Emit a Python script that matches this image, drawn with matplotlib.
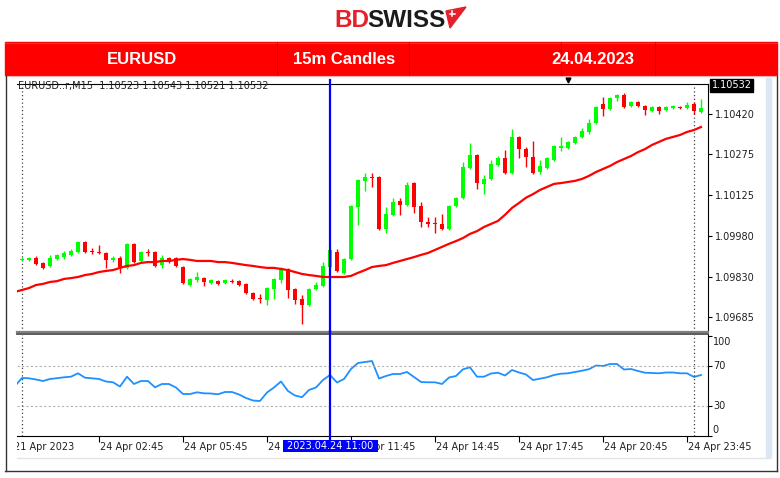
import matplotlib.pyplot as plt
from matplotlib.patches import Rectangle, Polygon
from matplotlib.transforms import Bbox, TransformedBbox, blended_transform_factory

W, H = 780, 478
plt.rcParams['font.family'] = ['DejaVu Sans']

# 15m candles, 24 Apr 00:00 .. 25 Apr 00:15
opens = [1.09892, 1.09892, 1.09899, 1.09881, 1.09870, 1.09895, 1.09902, 1.09910, 1.09921, 1.09957,
         1.09924, 1.09921, 1.09917, 1.09892, 1.09899, 1.09863, 1.09950, 1.09888, 1.09921, 1.09921,
         1.09873, 1.09899, 1.09899, 1.09866, 1.09801, 1.09819, 1.09826, 1.09808, 1.09815, 1.09808,
         1.09815, 1.09815, 1.09805, 1.09772, 1.09754, 1.09747, 1.09787, 1.09819, 1.09859, 1.09787,
         1.09750, 1.09729, 1.09787, 1.09797, 1.09866, 1.09921, 1.09845, 1.09895, 1.10084, 1.10178,
         1.10192, 1.10192, 1.10004, 1.10055, 1.10106, 1.10091, 1.10170, 1.10088, 1.10029, 1.10026,
         1.10022, 1.10004, 1.10088, 1.10117, 1.10225, 1.10272, 1.10167, 1.10185, 1.10235, 1.10261,
         1.10206, 1.10337, 1.10293, 1.10264, 1.10210, 1.10225, 1.10253, 1.10297, 1.10297, 1.10315,
         1.10337, 1.10355, 1.10387, 1.10456, 1.10438, 1.10478, 1.10489, 1.10449, 1.10463, 1.10449,
         1.10431, 1.10445, 1.10434, 1.10442, 1.10445, 1.10442, 1.10456, 1.10427]
highs = [1.09902, 1.09902, 1.09906, 1.09884, 1.09910, 1.09913, 1.09924, 1.09932, 1.09960, 1.09960,
         1.09935, 1.09946, 1.09921, 1.09906, 1.09906, 1.09953, 1.09953, 1.09924, 1.09932, 1.09924,
         1.09910, 1.09902, 1.09902, 1.09870, 1.09826, 1.09848, 1.09830, 1.09823, 1.09819, 1.09823,
         1.09823, 1.09819, 1.09808, 1.09776, 1.09768, 1.09794, 1.09826, 1.09866, 1.09863, 1.09790,
         1.09765, 1.09790, 1.09812, 1.09884, 1.09932, 1.09932, 1.09899, 1.10091, 1.10185, 1.10206,
         1.10206, 1.10196, 1.10084, 1.10117, 1.10117, 1.10174, 1.10174, 1.10102, 1.10047, 1.10047,
         1.10058, 1.10091, 1.10120, 1.10246, 1.10315, 1.10275, 1.10199, 1.10253, 1.10268, 1.10290,
         1.10366, 1.10340, 1.10301, 1.10322, 1.10253, 1.10264, 1.10308, 1.10337, 1.10322, 1.10340,
         1.10369, 1.10402, 1.10449, 1.10482, 1.10482, 1.10492, 1.10496, 1.10467, 1.10467, 1.10453,
         1.10449, 1.10449, 1.10449, 1.10453, 1.10449, 1.10463, 1.10463, 1.10474]
lows = [1.09888, 1.09888, 1.09873, 1.09859, 1.09866, 1.09892, 1.09895, 1.09906, 1.09917, 1.09917,
        1.09913, 1.09913, 1.09863, 1.09884, 1.09845, 1.09859, 1.09881, 1.09884, 1.09906, 1.09866,
        1.09863, 1.09881, 1.09866, 1.09805, 1.09797, 1.09812, 1.09797, 1.09805, 1.09801, 1.09805,
        1.09808, 1.09797, 1.09768, 1.09747, 1.09736, 1.09729, 1.09750, 1.09808, 1.09754, 1.09732,
        1.09660, 1.09725, 1.09783, 1.09794, 1.09863, 1.09848, 1.09841, 1.09892, 1.10019, 1.10141,
        1.10156, 1.10000, 1.09989, 1.10051, 1.10055, 1.10088, 1.10062, 1.10011, 1.10011, 1.09989,
        1.10000, 1.10000, 1.10084, 1.10113, 1.10221, 1.10149, 1.10130, 1.10181, 1.10232, 1.10203,
        1.10203, 1.10261, 1.10228, 1.10203, 1.10203, 1.10221, 1.10250, 1.10286, 1.10293, 1.10312,
        1.10333, 1.10348, 1.10384, 1.10413, 1.10434, 1.10467, 1.10442, 1.10445, 1.10445, 1.10416,
        1.10427, 1.10420, 1.10431, 1.10438, 1.10438, 1.10438, 1.10420, 1.10424]
closes = [1.09895, 1.09899, 1.09877, 1.09863, 1.09899, 1.09910, 1.09917, 1.09924, 1.09957, 1.09921,
          1.09921, 1.09917, 1.09892, 1.09899, 1.09866, 1.09950, 1.09884, 1.09921, 1.09917, 1.09870,
          1.09899, 1.09884, 1.09870, 1.09808, 1.09823, 1.09830, 1.09812, 1.09819, 1.09805, 1.09819,
          1.09812, 1.09801, 1.09772, 1.09750, 1.09750, 1.09790, 1.09823, 1.09863, 1.09783, 1.09747,
          1.09729, 1.09787, 1.09801, 1.09870, 1.09928, 1.09852, 1.09895, 1.10088, 1.10181, 1.10192,
          1.10188, 1.10004, 1.10058, 1.10102, 1.10091, 1.10163, 1.10084, 1.10029, 1.10022, 1.10022,
          1.10004, 1.10088, 1.10117, 1.10228, 1.10272, 1.10170, 1.10185, 1.10239, 1.10261, 1.10206,
          1.10337, 1.10293, 1.10264, 1.10206, 1.10232, 1.10261, 1.10304, 1.10304, 1.10319, 1.10337,
          1.10358, 1.10387, 1.10445, 1.10438, 1.10478, 1.10489, 1.10445, 1.10463, 1.10449, 1.10434,
          1.10445, 1.10431, 1.10445, 1.10449, 1.10442, 1.10453, 1.10431, 1.10442]

# moving average and RSI start one bar earlier (21 Apr 23:45)
ma_line = [1.09776, 1.09783, 1.09790, 1.09801, 1.09805, 1.09812, 1.09815, 1.09823, 1.09826, 1.09830,
           1.09837, 1.09841, 1.09848, 1.09852, 1.09855, 1.09863, 1.09870, 1.09873, 1.09881, 1.09884,
           1.09884, 1.09888, 1.09888, 1.09892, 1.09895, 1.09892, 1.09888, 1.09888, 1.09888, 1.09884,
           1.09884, 1.09881, 1.09877, 1.09873, 1.09870, 1.09866, 1.09863, 1.09863, 1.09859, 1.09855,
           1.09848, 1.09841, 1.09837, 1.09834, 1.09830, 1.09830, 1.09830, 1.09830, 1.09834, 1.09845,
           1.09855, 1.09866, 1.09870, 1.09873, 1.09881, 1.09888, 1.09895, 1.09902, 1.09910, 1.09917,
           1.09928, 1.09939, 1.09950, 1.09960, 1.09971, 1.09986, 1.09996, 1.10011, 1.10022, 1.10033,
           1.10055, 1.10080, 1.10098, 1.10117, 1.10130, 1.10145, 1.10156, 1.10167, 1.10170, 1.10174,
           1.10178, 1.10185, 1.10196, 1.10210, 1.10221, 1.10232, 1.10246, 1.10257, 1.10268, 1.10282,
           1.10293, 1.10308, 1.10319, 1.10330, 1.10337, 1.10344, 1.10355, 1.10362, 1.10373]
rsi_line = [50.0, 58.0, 57.7, 56.5, 55.0, 57.0, 57.8, 58.7, 59.3, 62.7,
            58.3, 57.7, 57.0, 54.5, 53.7, 49.5, 59.3, 52.0, 55.0, 55.0,
            48.7, 52.0, 52.0, 48.5, 42.0, 42.0, 43.7, 42.7, 42.5, 41.7,
            44.0, 44.0, 41.5, 38.0, 35.5, 35.0, 43.5, 48.5, 54.5, 45.0,
            40.5, 38.8, 46.0, 48.5, 56.0, 61.0, 53.5, 57.0, 67.0, 73.0,
            74.0, 75.0, 57.5, 60.0, 62.0, 62.0, 64.0, 59.0, 54.0, 53.7,
            53.7, 52.0, 58.5, 60.0, 66.7, 68.7, 59.3, 59.3, 62.5, 63.3,
            60.5, 66.0, 63.5, 61.5, 56.0, 57.3, 58.7, 61.0, 62.3, 62.7,
            64.0, 65.3, 66.8, 70.5, 70.0, 72.0, 72.0, 66.5, 67.0, 65.0,
            63.3, 63.0, 62.7, 63.5, 63.5, 62.7, 62.7, 59.0, 61.0]

price_ticks = [1.10420, 1.10275, 1.10125, 1.09980, 1.09830, 1.09685]
rsi_ticks = [100, 70, 30, 0]
time_ticks = [11, 23, 35, 47, 59, 71, 83, 95]
time_labels = ['24 Apr 02:45', '24 Apr 05:45', '24 Apr 08:45', '24 Apr 11:45',
               '24 Apr 14:45', '24 Apr 17:45', '24 Apr 20:45', '24 Apr 23:45']
first_label = '21 Apr 2023'
day_starts = [0, 96]
cursor_bar = 44
cursor_label = '2023.04.24 11:00'
header = 'EURUSD..r,M15  1.10523 1.10543 1.10521 1.10532'
rsi_header = 'RSI(14) 50.4064'
last_price = '1.10532'
titles = ['EURUSD', '15m Candles', '24.04.2023']

fig = plt.figure(figsize=(W / 100, H / 100), dpi=100)
fig.patch.set_facecolor('white')

# page decoration in pixel units
bg = fig.add_axes([0, 0, 1, 1], zorder=0)
bg.set_xlim(0, W)
bg.set_ylim(H, 0)
bg.axis('off')

bg.text(334, 27, 'BD', color='#e4202a', fontsize=17.5, fontweight='bold',
        family='Liberation Sans', va='baseline')
bg.text(367, 27, 'SWISS', color='#1b1b1b', fontsize=17.5, fontweight='bold',
        family='Liberation Sans', va='baseline')
bg.add_patch(Polygon([(446, 11), (466, 7), (450, 28)], closed=True, color='#e4202a'))
bg.plot([449.5, 455], [13.5, 13.5], color='white', lw=1.1)
bg.plot([452.2, 452.2], [10.8, 16.2], color='white', lw=1.1)

bg.add_patch(Rectangle((5, 42), 772, 33, color='#ff0000'))
bg.plot([5, 777], [42.5, 42.5], color='#8c6060', lw=0.8)
for sx in [277, 409, 561, 655]:
    bg.plot([sx, sx], [42, 75], color='#c80000', lw=0.6)
bg.plot([5, 777], [76, 76], color='#ffb0b0', lw=0.8)
for tx, txt in zip([142, 344, 593], titles):
    bg.text(tx, 59.5, txt, color='white', fontsize=12, fontweight='bold',
            family='Liberation Sans', ha='center', va='center')

bg.plot([5.5, 5.5], [76, 471], color='#333333', lw=1)
bg.plot([776.5, 776.5], [76, 471], color='#333333', lw=1)
bg.plot([5, 777], [470.5, 470.5], color='#333333', lw=1)
bg.add_patch(Rectangle((766, 78), 5, 380, color='#dbe7f4'))
bg.plot([17, 766], [457.5, 457.5], color='#e4e4e4', lw=1)

n = len(opens)
bars = list(range(n))
ind_x = list(range(-1, n))
xlim = (-0.71, 98.0)

# price panel
ax = fig.add_axes([17 / W, 1 - 332 / H, 691 / W, 248 / H], zorder=2)
colors = ['#00ff00' if c >= o else '#ff0000' for o, c in zip(opens, closes)]
bottoms = [min(o, c) for o, c in zip(opens, closes)]
heights = [max(abs(c - o), 0.00003) for o, c in zip(opens, closes)]
ax.vlines(bars, lows, highs, colors=colors, lw=1.0, zorder=2)
ax.bar(bars, heights, bottom=bottoms, width=0.64, color=colors, zorder=2)
ax.plot(ind_x, ma_line, color='#ff0000', lw=1.6, zorder=3)
ax.set_xlim(*xlim)
ax.set_ylim(1.096309, 1.105286)
ax.spines['left'].set_visible(False)
ax.spines['top'].set_color('black')
ax.spines['right'].set_color('black')
ax.spines['bottom'].set_color('#7f7f7f')
ax.spines['bottom'].set_linewidth(1.6)
ax.yaxis.tick_right()
ax.set_yticks(price_ticks)
ax.set_yticklabels([f'{p:.5f}' for p in price_ticks])
ax.tick_params(axis='y', length=3, width=0.8, pad=2, labelsize=7, labelcolor='#202020')
ax.set_xticks([])
for d in day_starts:
    ax.axvline(d, color='#404040', lw=0.9, ls=(0, (1, 2)), zorder=1)
ax.axvline(cursor_bar, color='#0000ff', lw=1.6, ymax=1.016, clip_on=False, zorder=5)
ax.text(0.0015, 0.990, header, transform=ax.transAxes, fontsize=7, color='#222222',
        va='center', ha='left')
ax.text(1.005, 0.994, last_price, transform=ax.transAxes, fontsize=7, color='white',
        va='center', ha='left', clip_on=False,
        bbox=dict(boxstyle='square,pad=0.12', fc='black', ec='black'))
ax.plot([0.797], [1.016], marker='v', ms=3.5, color='black', transform=ax.transAxes,
        clip_on=False)

# RSI panel
rx = fig.add_axes([17 / W, 1 - 436 / H, 691 / W, 102 / H], zorder=3)
rx.plot(ind_x, rsi_line, color='#1e90ff', lw=1.3)
rx.set_xlim(*xlim)
rx.set_ylim(0, 102)
for lvl in (70, 30):
    rx.axhline(lvl, color='#b4b4b4', lw=0.8, ls=(0, (2, 2)))
rx.spines['left'].set_visible(False)
rx.spines['top'].set_color('#505050')
rx.spines['top'].set_linewidth(1.3)
rx.spines['right'].set_color('black')
rx.spines['bottom'].set_color('black')
rx.yaxis.tick_right()
rx.set_yticks(rsi_ticks)
rx.set_yticklabels([''] * len(rsi_ticks))
rx.tick_params(axis='y', length=3, width=0.8)
for v in rsi_ticks:
    rx.text(1.007, min(max(v, 6), 94), str(v), transform=blended_transform_factory(rx.transAxes, rx.transData),
            fontsize=7, color='#202020', va='center', ha='left', clip_on=False)
rx.set_xticks(time_ticks)
rx.set_xticklabels([''] * len(time_ticks))
rx.tick_params(axis='x', length=4, width=0.8, direction='out')
for d in day_starts:
    rx.axvline(d, color='#404040', lw=0.9, ls=(0, (1, 2)))

trans = blended_transform_factory(rx.transData, rx.transAxes)
for t, lab in zip(time_ticks, time_labels):
    rx.text(t + 0.15, -0.108, lab, transform=trans, fontsize=7, color='#202020',
            ha='left', va='center', clip_on=False, zorder=3)
ft = rx.text(-1.15, -0.108, first_label, transform=trans, fontsize=7, color='#202020',
             ha='left', va='center', zorder=3)
ft.set_clip_box(TransformedBbox(Bbox([[17 / W, 0], [1, 1]]), fig.transFigure))
ft.set_clip_on(True)

rx.axvline(cursor_bar, ymin=-0.04, ymax=1.03, clip_on=False, color='#0000ff', lw=1.6, zorder=5)
rx.add_patch(Rectangle((cursor_bar - 6.75, -0.157), 13.6, 0.118, transform=trans,
                       clip_on=False, fc='#0000ff', ec='none', zorder=8))
rx.text(cursor_bar + 0.05, -0.100, cursor_label, transform=trans, fontsize=7, color='white',
        ha='center', va='center', clip_on=False, zorder=9)

fig.savefig('out.png', dpi=100)
